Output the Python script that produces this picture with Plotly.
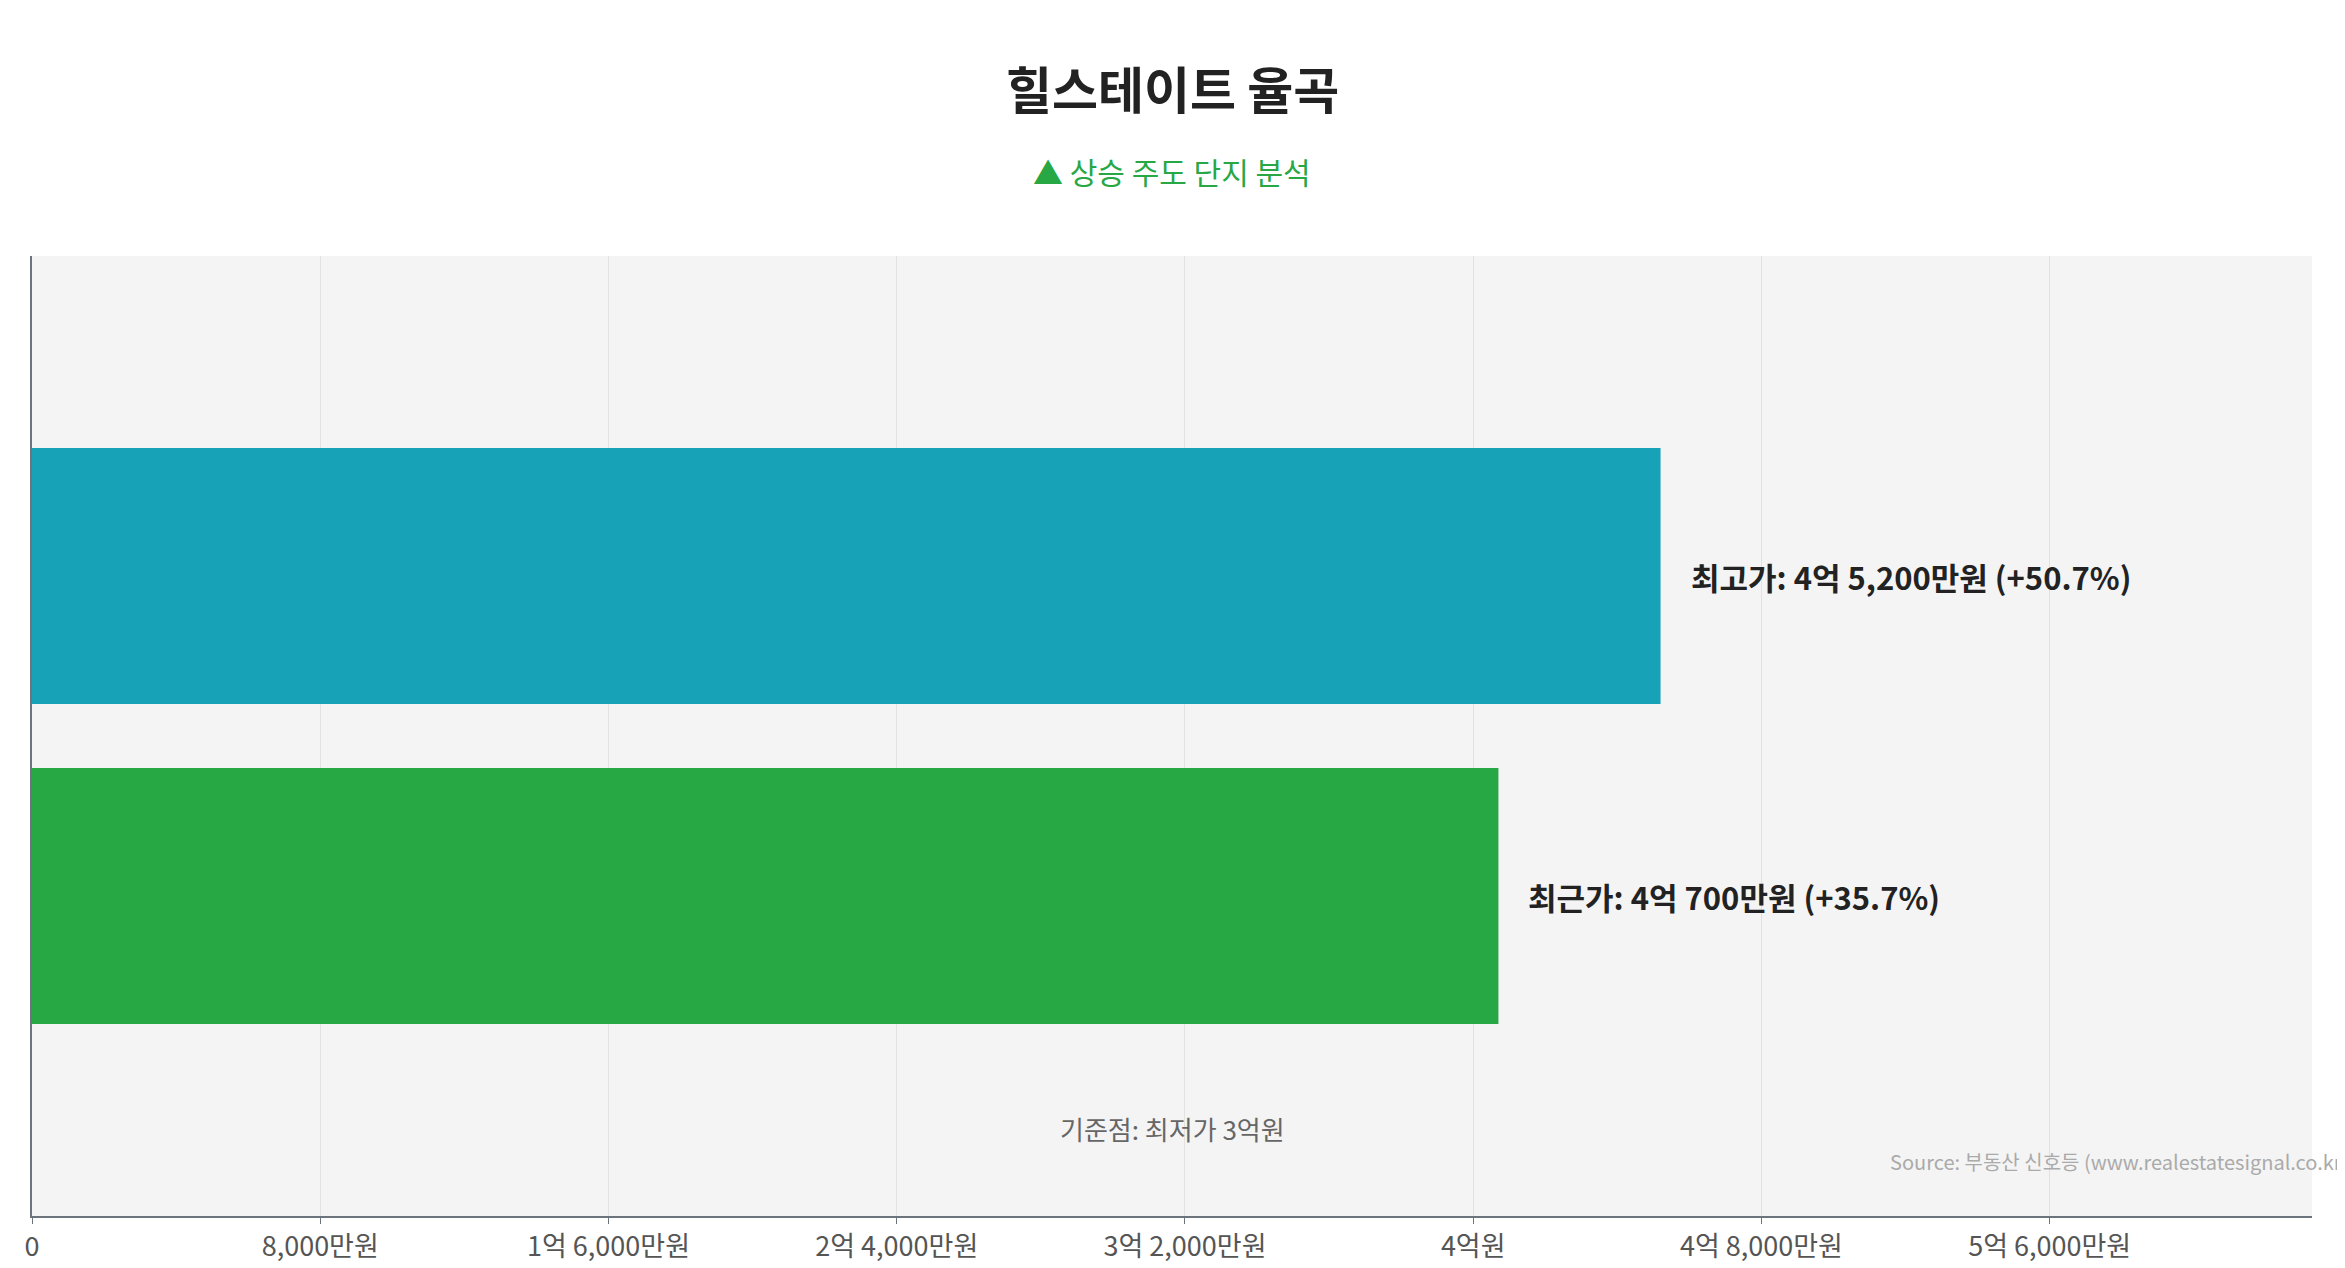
import plotly.graph_objects as go

# 가격 (만원 단위)
labels = ["최근가", "최고가"]
prices = [40700, 45200]
bar_text = ["최근가: 4억 700만원 (+35.7%)", "최고가: 4억 5,200만원 (+50.7%)"]
bar_colors = ["#28A745", "#17A2B8"]
tick_vals = [0, 8000, 16000, 24000, 32000, 40000, 48000, 56000]
tick_text = ["0", "8,000만원", "1억 6,000만원", "2억 4,000만원", "3억 2,000만원",
             "4억원", "4억 8,000만원", "5억 6,000만원"]

font = "Noto Sans CJK KR"

fig = go.Figure(go.Bar(
    x=prices,
    y=[0, 1],
    orientation="h",
    width=0.8,
    marker=dict(color=bar_colors, line=dict(width=0)),
    hoverinfo="skip",
))

annotations = [
    dict(text="<b>힐스테이트 율곡</b>", x=0.5, y=1.216, xref="paper", yref="paper",
         showarrow=False, font=dict(family=font, size=50, color="#222222")),
    dict(text="▲ 상승 주도 단지 분석", x=0.5, y=1.114, xref="paper", yref="paper",
         showarrow=False, font=dict(family=font, size=30, color="#28A745")),
    dict(text="기준점: 최저가 3억원", x=0.5, y=0.07, xref="paper", yref="paper",
         showarrow=False, font=dict(family=font, size=26, color="#666666")),
    dict(text="Source: 부동산 신호등 (www.realestatesignal.co.kr)", x=1, y=0.04,
         xref="paper", yref="paper", xanchor="right", xshift=38, showarrow=False,
         font=dict(family=font, size=20, color="#aaaaaa")),
]
for i, (p, t) in enumerate(zip(prices, bar_text)):
    annotations.append(dict(text=f"<b>{t}</b>", x=p, y=i, xref="x", yref="y",
                            xanchor="left", xshift=28, showarrow=False,
                            font=dict(family=font, size=31, color="#222222")))

fig.update_layout(
    width=2345, height=1268,
    margin=dict(l=24, r=41, t=248, b=57),
    paper_bgcolor="white",
    plot_bgcolor="#f4f4f4",
    font=dict(family=font),
    showlegend=False,
    xaxis=dict(
        range=[0, 45200 * 1.4],
        tickvals=tick_vals, ticktext=tick_text,
        tickfont=dict(family=font, size=27, color="#555555"),
        showgrid=True, gridcolor="#e2e2e2",
        showline=True, linecolor="#6c757d", linewidth=1.5,
        ticks="outside", ticklen=6, tickcolor="#6c757d",
        zeroline=False,
    ),
    yaxis=dict(
        range=[-1, 2], showticklabels=False, showgrid=False,
        showline=True, linecolor="#6c757d", linewidth=1.5, zeroline=False,
    ),
    annotations=annotations,
)

fig.write_html("out.html")
